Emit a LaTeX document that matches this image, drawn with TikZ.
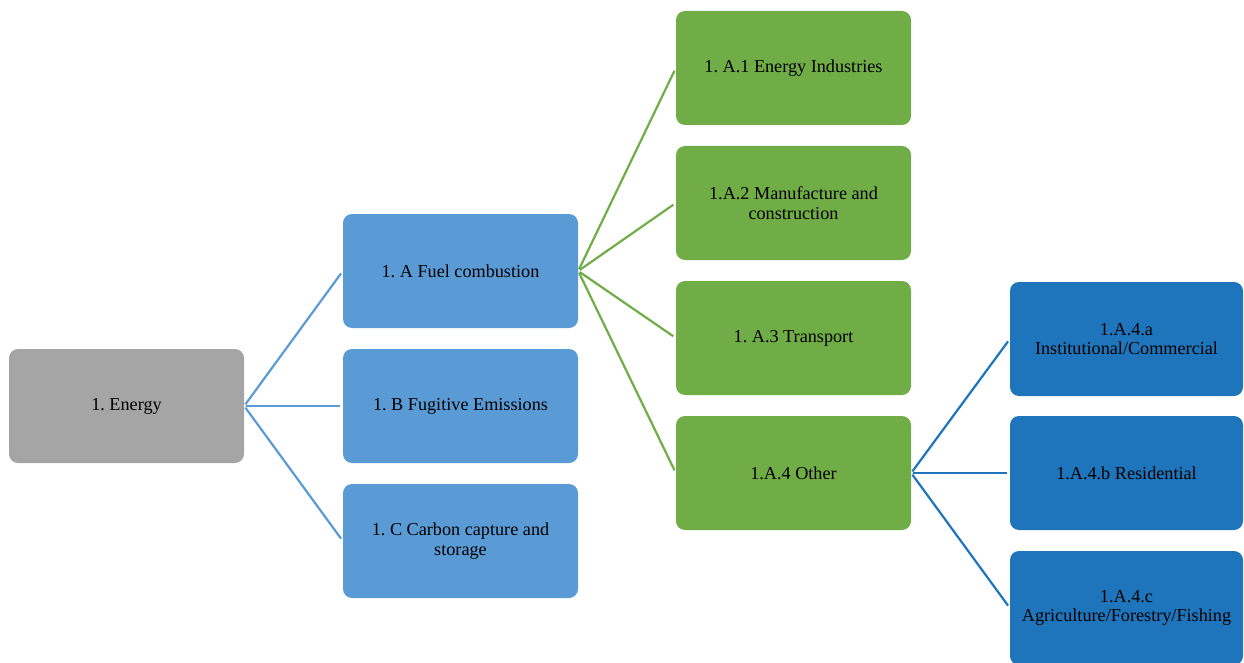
\documentclass[tikz,border=0pt]{standalone}
\usepackage{fontspec}
\setmainfont{Liberation Serif}
\frenchspacing
\definecolor{cgray}{HTML}{A5A5A5}
\definecolor{cblue}{HTML}{5B9BD5}
\definecolor{cgreen}{HTML}{70AD47}
\definecolor{cdblue}{RGB}{30,117,187}
\tikzset{
  box/.style={rectangle, rounded corners=9pt, minimum width=235pt, minimum height=114pt,
    inner sep=0pt, align=center, font=\fontsize{18.2}{19.5}\selectfont\frenchspacing, text=black},
  conn/.style={line width=2.2pt, shorten <=2pt, shorten >=3pt}
}
\begin{document}
\begin{tikzpicture}[x=1pt,y=-1pt]
\useasboundingbox (0,0) rectangle (1244,663);
\begin{scope}
\clip (0,0) rectangle (1244,663);
\node[box, fill=cgray] (e) at (126.5,406) {1. Energy};
\node[box, fill=cblue] (a) at (460.5,271) {1. A Fuel combustion};
\node[box, fill=cblue] (b) at (460.5,406) {1. B Fugitive Emissions};
\node[box, fill=cblue] (c) at (460.5,541) {1. C Carbon capture and\\storage};
\node[box, fill=cgreen] (a1) at (793.5,68) {1. A.1 Energy Industries};
\node[box, fill=cgreen] (a2) at (793.5,203) {1.A.2 Manufacture and\\construction};
\node[box, fill=cgreen] (a3) at (793.5,338) {1. A.3 Transport};
\node[box, fill=cgreen] (a4) at (793.5,473) {1.A.4 Other};
\node[box, fill=cdblue, minimum width=233pt] (a4a) at (1126.5,339) {1.A.4.a\\Institutional/Commercial};
\node[box, fill=cdblue, minimum width=233pt] (a4b) at (1126.5,473) {1.A.4.b Residential};
\node[box, fill=cdblue, minimum width=233pt] (a4c) at (1126.5,608) {1.A.4.c\\Agriculture/Forestry/Fishing};
\end{scope}
\foreach \t in {a,b,c} \draw[conn, cblue] (e.east) -- (\t.west);
\foreach \t in {a1,a2,a3,a4} \draw[conn, cgreen] (a.east) -- (\t.west);
\foreach \t in {a4a,a4b,a4c} \draw[conn, cdblue] (a4.east) -- (\t.west);
\end{tikzpicture}
\end{document}
